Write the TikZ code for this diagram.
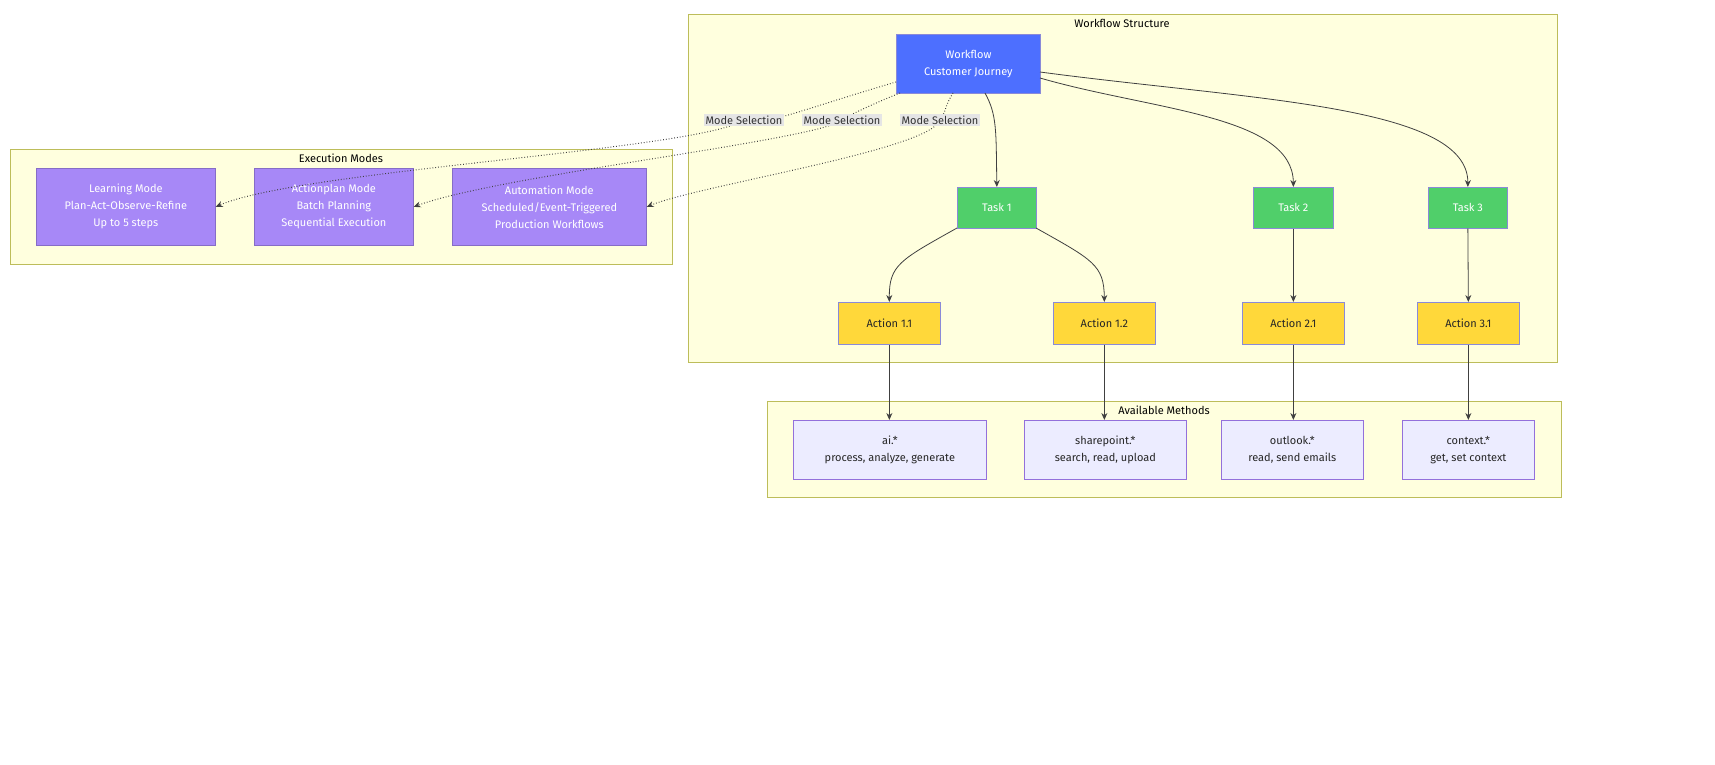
\documentclass[tikz,border=0pt]{standalone}
\usepackage{fontspec}
\setmainfont{Fira Sans}
\usetikzlibrary{arrows.meta}
\begin{document}
\begin{tikzpicture}[x=1pt,y=-1pt,
  every node/.style={font=\fontsize{11}{17}\selectfont},
  cl/.style={draw=clb, fill=clf, line width=0.7pt},
  box/.style={draw, line width=0.7pt, align=center, inner sep=0pt, anchor=north west},
  wf/.style={box, fill=wfblue, draw=wfborder, text=white},
  task/.style={box, fill=tgreen, draw=wfborder, text=white},
  act/.style={box, fill=ayellow, draw=wfborder, text=black!85},
  mode/.style={box, fill=mpurple, draw=mpurple!80!black, text=white},
  meth/.style={box, fill=mlav, draw=mborder, text=black!85},
  lab/.style={fill=gray!20, inner sep=2pt, text=black!80},
  e/.style={draw=black!75, line width=0.8pt, -{Stealth[length=7pt,width=6pt]}},
  d/.style={e, dotted, line width=1pt}]
\definecolor{clb}{HTML}{BDBD5A}
\definecolor{clf}{HTML}{FFFFDE}
\definecolor{wfblue}{HTML}{4D6FFF}
\definecolor{wfborder}{HTML}{8A8AD8}
\definecolor{tgreen}{HTML}{50CF6A}
\definecolor{ayellow}{HTML}{FFD83A}
\definecolor{mpurple}{HTML}{A788F7}
\definecolor{mlav}{HTML}{ECECFF}
\definecolor{mborder}{HTML}{9370DB}
\useasboundingbox (0,0) rectangle (1715,765);
% clusters
\draw[cl] (688,14) rectangle (1557,362);
\node (t1) at (1122,23) {Workflow Structure};
\draw[cl] (10,149) rectangle (672,264);
\node (t2) at (341,158) {Execution Modes};
\draw[cl] (767,401) rectangle (1561,497);
\node (t3) at (1164,410) {Available Methods};
% nodes
\node[wf, minimum width=144pt, minimum height=59pt] (W) at (896,34) {Workflow\\Customer Journey};
\node[task, minimum width=79pt, minimum height=41pt] (T1) at (957,187) {Task 1};
\node[task, minimum width=80pt, minimum height=41pt] (T2) at (1253,187) {Task 2};
\node[task, minimum width=79pt, minimum height=41pt] (T3) at (1428,187) {Task 3};
\node[act, minimum width=102pt, minimum height=42pt] (A11) at (838,302) {Action 1.1};
\node[act, minimum width=102pt, minimum height=42pt] (A12) at (1053,302) {Action 1.2};
\node[act, minimum width=102pt, minimum height=42pt] (A21) at (1242,302) {Action 2.1};
\node[act, minimum width=102pt, minimum height=42pt] (A31) at (1417,302) {Action 3.1};
\node[mode, minimum width=179pt, minimum height=77pt] (L) at (36,168) {Learning Mode\\Plan-Act-Observe-Refine\\Up to 5 steps};
\node[mode, minimum width=159pt, minimum height=77pt] (AP) at (254,168) {Actionplan Mode\\Batch Planning\\Sequential Execution};
\node[mode, minimum width=194pt, minimum height=77pt] (AU) at (452,168) {Automation Mode\\Scheduled/Event-Triggered\\Production Workflows};
\node[meth, minimum width=193pt, minimum height=59pt] (M1) at (793,420) {ai.*\\process, analyze, generate};
\node[meth, minimum width=162pt, minimum height=59pt] (M2) at (1024,420) {sharepoint.*\\search, read, upload};
\node[meth, minimum width=142pt, minimum height=59pt] (M3) at (1221,420) {outlook.*\\read, send emails};
\node[meth, minimum width=132pt, minimum height=59pt] (M4) at (1402,420) {context.*\\get, set context};
% edges workflow -> tasks
\coordinate (w1) at (985,93);
\coordinate (w2) at (1040,78);
\coordinate (w3) at (1040,72);
\draw[e] (w1) .. controls (997,115) and (996,130) .. (T1.north);
\draw[e] (w2) .. controls (1150,110) and (1293,115) .. (T2.north);
\draw[e] (w3) .. controls (1250,100) and (1468,105) .. (T3.north);
\coordinate (t1a) at (957,228);
\coordinate (t1b) at (1036,228);
\draw[e] (t1a) .. controls (900,260) and (889,265) .. (A11.north);
\draw[e] (t1b) .. controls (1093,260) and (1104,265) .. (A12.north);
\draw[e] (T2.south) -- (A21.north);
\draw[e] (T3.south) -- (A31.north);
\draw[e] (A11.south) -- (M1.north -| A11.south);
\draw[e] (A12.south) -- (M2.north -| A12.south);
\draw[e] (A21.south) -- (M3.north -| A21.south);
\draw[e] (A31.south) -- (M4.north -| A31.south);
% mode selection
\coordinate (wa) at (896,82);
\coordinate (wb) at (900,93);
\coordinate (wc) at (953,93);
\node[lab] (l1) at (744,120) {Mode Selection};
\node[lab] (l2) at (842,120) {Mode Selection};
\node[lab] (l3) at (940,120) {Mode Selection};
\draw[d] (wa) .. controls (800,110) and (760,128) .. (l1.center) .. controls (700,150) and (300,170) .. (L.east);
\draw[d] (wb) .. controls (870,105) and (850,115) .. (l2.center) .. controls (820,140) and (500,175) .. (AP.east);
\draw[d] (wc) .. controls (945,105) and (945,115) .. (l3.center) .. controls (930,150) and (700,185) .. (AU.east);
\node[lab] at (744,120) {Mode Selection};
\node[lab] at (842,120) {Mode Selection};
\node[lab] at (940,120) {Mode Selection};
\end{tikzpicture}
\end{document}
